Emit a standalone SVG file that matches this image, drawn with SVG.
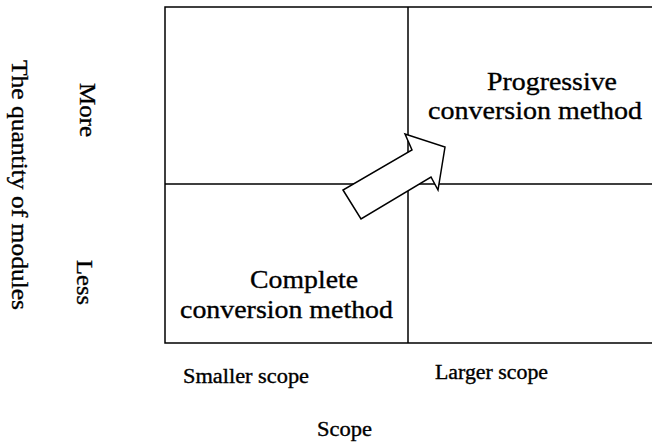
<svg xmlns="http://www.w3.org/2000/svg" width="652" height="442" viewBox="0 0 652 442">
<style>
.ln{stroke:#000;stroke-width:1.5;fill:none}
.t{font-family:'Liberation Serif','Times New Roman',Times,serif;fill:#000;stroke:#000;stroke-width:0.35}
.q{font-size:26px}
.b{font-size:20px}
.v{font-size:24px}
</style>
<rect width="652" height="442" fill="#fff"/>
<g id="grid">
<path class="ln" d="M652,7H165V343H652M408,7V343M165,184H652"/>
</g>
<g id="quad-progressive">
<text class="t q" x="487" y="90" textLength="130" lengthAdjust="spacingAndGlyphs">Progressive</text>
<text class="t q" x="428" y="119" textLength="214" lengthAdjust="spacingAndGlyphs">conversion method</text>
</g>
<g id="quad-complete">
<text class="t q" x="250" y="288" textLength="108" lengthAdjust="spacingAndGlyphs">Complete</text>
<text class="t q" x="180" y="318" textLength="213" lengthAdjust="spacingAndGlyphs">conversion method</text>
</g>
<g id="connectors">
<polygon points="343,190 361,219 431,177 438,190 445,147 405,134 412,150" fill="#fff" stroke="#000" stroke-width="1.5" stroke-linejoin="miter"/>
</g>
<g id="axis-x">
<text class="t b" x="183" y="383" textLength="126" lengthAdjust="spacingAndGlyphs">Smaller scope</text>
<text class="t b" x="435" y="379" textLength="113" lengthAdjust="spacingAndGlyphs">Larger scope</text>
<text class="t b" x="317" y="436" textLength="55" lengthAdjust="spacingAndGlyphs">Scope</text>
</g>
<g id="axis-y">
<text class="t v" transform="translate(12,60) rotate(90)" x="0" y="0" textLength="250" lengthAdjust="spacingAndGlyphs">The quantity of modules</text>
<text class="t v" transform="translate(80,83) rotate(90)" x="0" y="0" textLength="54" lengthAdjust="spacingAndGlyphs">More</text>
<text class="t v" transform="translate(77,260) rotate(90)" x="0" y="0" textLength="45" lengthAdjust="spacingAndGlyphs">Less</text>
</g>
</svg>
